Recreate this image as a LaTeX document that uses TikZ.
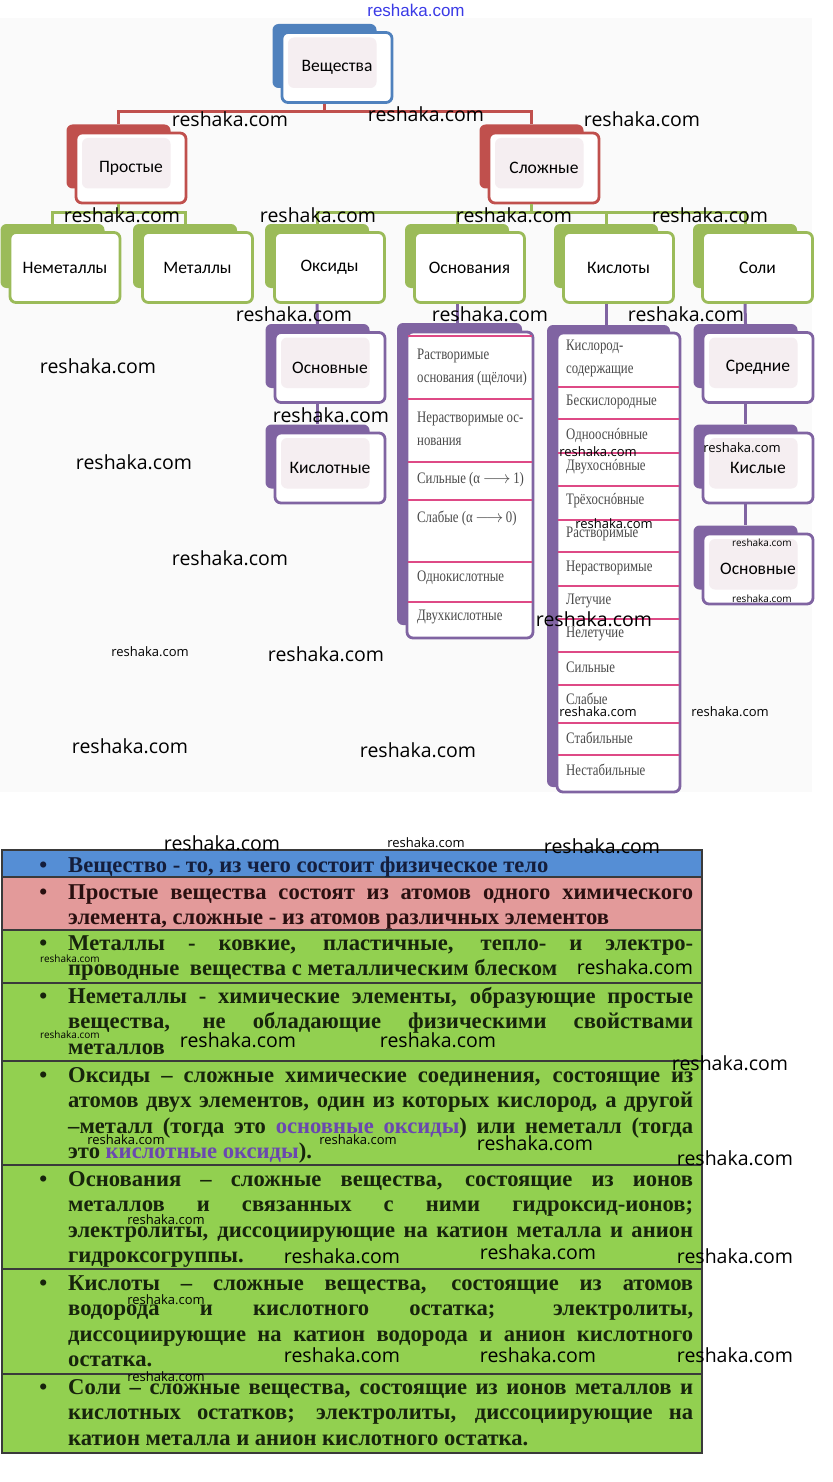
\documentclass[tikz,border=0pt]{standalone}
\usepackage{fontspec}
\setmainfont{Liberation Serif}
\newfontfamily\boxfont{Carlito}
\newfontfamily\wmfont{Open Sans}
\newfontfamily\listfont[FakeStretch=0.8]{Liberation Serif}
\newfontfamily\topwmfont{Liberation Sans}
\usetikzlibrary{calc}
\definecolor{accblue}{HTML}{4F81BD}
\definecolor{accred}{HTML}{C0504D}
\definecolor{accgreen}{HTML}{9BBB59}
\definecolor{accpurple}{HTML}{8064A2}
\definecolor{innerpink}{HTML}{F5EEF1}
\definecolor{seppink}{HTML}{DE4A86}
\definecolor{listgray}{HTML}{4A4A4A}
\definecolor{bgtop}{HTML}{FAFAFA}
\definecolor{tblue}{HTML}{558ED5}
\definecolor{tred}{HTML}{E39A9A}
\definecolor{tgreen}{HTML}{92D050}
\definecolor{tline}{HTML}{3A3A3A}
\definecolor{oxpurple}{HTML}{6A48B0}
\definecolor{wmblue}{HTML}{3A3AE6}
\definecolor{txtblue}{HTML}{141E3C}
\definecolor{txtred}{HTML}{2A1010}
\definecolor{txtgreen}{HTML}{17240C}
\newcommand\smartbox[6]{%
  \node[backbox, fill=#4] (#1b) at (#2-12.5,#3-11.5) {};
  \node[frontbox, draw=#4, #5] (#1) at (#2,#3) {#6};}
\newcommand\jline[1]{\makebox[625pt][s]{#1}}
\newcommand\bul{\leavevmode\llap{•\hspace{21pt}}}
\tikzset{
  backbox/.style={rounded corners=6pt, minimum width=104, minimum height=64, inner sep=0},
  frontbox/.style={rounded corners=6pt, fill=white, line width=2.8pt, minimum width=110,
    minimum height=70, inner sep=0, font=\boxfont\fontsize{17.5}{19}\selectfont},
  pinkin/.style={path picture={\fill[innerpink]
    ($(path picture bounding box.center)+(-49,-30)$) rectangle
    ($(path picture bounding box.center)+(39.5,20.5)$);}},
  rline/.style={draw=accred, line width=3pt},
  gline/.style={draw=accgreen, line width=3pt},
  pline/.style={draw=accpurple, line width=3pt},
  listback/.style={rounded corners=6pt, fill=accpurple, inner sep=0},
  listfront/.style={rounded corners=6pt, fill=white, draw=accpurple, line width=2.8pt, inner sep=0},
  sepline/.style={draw=seppink, line width=1.1pt, shorten <=2pt, shorten >=2pt},
  item/.style={font=\listfont\fontsize{16}{23}\selectfont, text=listgray, anchor=west,
    inner sep=0, align=left},
  rowtext/.style={anchor=base west, inner sep=0,
    font=\fontsize{22.6}{25.6}\selectfont\bfseries},
  tborder/.style={draw=tline, line width=1.3pt},
  wm/.style={font=\wmfont\fontsize{19.5}{20}\selectfont, inner sep=0, text=black},
  wms/.style={font=\wmfont\fontsize{13}{14}\selectfont, inner sep=0, text=black},
  wmt/.style={font=\wmfont\fontsize{10}{11}\selectfont, inner sep=0, text=black},
}
\begin{document}
\begin{tikzpicture}[x=1pt,y=-1pt]
\path[use as bounding box] (0,0) rectangle (832,1482);
\fill[bgtop] (0,18) rectangle (812,792);

\coordinate (rbar) at (0,112);
\coordinate (gbar) at (0,212);

\smartbox{v}{337}{67.5}{accblue}{pinkin}{Вещества}
\smartbox{p}{131}{168}{accred}{pinkin}{Простые}
\smartbox{s}{544}{168}{accred}{pinkin}{Сложные}
\draw[rline] (vb.south |- v.south) -- (vb.south |- rbar);
\draw[rline] (pb.north) |- (sb.north |- rbar) -- (sb.north);

\smartbox{nm}{65}{267.5}{accgreen}{}{Неметаллы}
\smartbox{mt}{197.5}{267.5}{accgreen}{}{Металлы}
\smartbox{ok}{329.5}{267.5}{accgreen}{}{Оксиды}
\smartbox{os}{469.5}{267.5}{accgreen}{}{Основания}
\smartbox{ks}{618.5}{267.5}{accgreen}{}{Кислоты}
\smartbox{sl}{757.5}{267.5}{accgreen}{}{Соли}

\draw[gline] (pb.south |- p.south) -- (pb.south |- gbar);
\draw[gline] (nmb.north) |- (mtb.north |- gbar) -- (mtb.north);
\draw[gline] (sb.south |- s.south) -- (sb.south |- gbar);
\draw[gline] (okb.north) |- (slb.north |- gbar) -- (slb.north);
\draw[gline] (osb.north) -- (osb.north |- gbar);
\draw[gline] (ksb.north) -- (ksb.north |- gbar);

\smartbox{po}{330}{367.5}{accpurple}{pinkin}{Основные}
\smartbox{pk}{330}{468}{accpurple}{pinkin}{Кислотные}
\smartbox{ss}{758}{367.5}{accpurple}{pinkin}{Средние}
\smartbox{sk}{758}{468}{accpurple}{pinkin}{Кислые}
\smartbox{so}{758}{569}{accpurple}{pinkin}{Основные}
\draw[pline] (okb.south |- ok.south) -- (pob.north);
\draw[pline] (pob.south |- po.south) -- (pkb.north);
\draw[pline] (slb.south |- sl.south) -- (ssb.north);
\draw[pline] (ssb.south |- ss.south) -- (skb.north);
\draw[pline] (skb.south |- sk.south) -- (sob.north);

% Основания list
\node[listback, minimum width=125, minimum height=302] (olb) at (459.5,474) {};
\node[listfront, minimum width=126, minimum height=306] (ol) at (470,485) {};
\draw[pline] (osb.south |- os.south) -- (osb.south |- olb.north);
\foreach \yy in {336,399,462,500,562,602}
  \draw[sepline] (ol.west |- 0,\yy) -- (ol.east |- 0,\yy);
\node[item] (ol1) at (417,367.5) {Растворимые\\основания (щёлочи)};
\node[item] (ol2) at (417,428.5) {Нерастворимые ос-\\нования};
\node[item] (ol3) at (417,480) {Сильные (α\,$\longrightarrow$\,1)};
\node[item] (ol4) at (417,518) {Слабые (α\,$\longrightarrow$\,0)};
\node[item] (ol5) at (417,578) {Однокислотные};
\node[item] (ol6) at (417,617) {Двухкислотные};

% Кислоты list
\node[listback, minimum width=123, minimum height=462] (klb) at (608.5,556) {};
\node[listfront, minimum width=123, minimum height=459] (kl) at (618.5,562.5) {};
\draw[pline] (ksb.south |- ks.south) -- (ksb.south |- klb.north);
\foreach \yy in {387,419,453,486,520,552,586,619,652,685,723,755}
  \draw[sepline] (kl.west |- 0,\yy) -- (kl.east |- 0,\yy);
\node[item] (kl1) at (566,358.5) {Кислород-\\содержащие};
\node[item] (kl2) at (566,402) {Бескислородные};
\node[item] (kl3) at (566,435) {Однооснóвные};
\node[item] (kl4) at (566,467) {Двухоснóвные};
\node[item] (kl5) at (566,501) {Трёхоснóвные};
\node[item] (kl6) at (566,534) {Растворимые};
\node[item] (kl7) at (566,568) {Нерастворимые};
\node[item] (kl8) at (566,601) {Летучие};
\node[item] (kl9) at (566,634) {Нелетучие};
\node[item] (kl10) at (566,667) {Сильные};
\node[item] (kl11) at (566,699) {Слабые};
\node[item] (kl12) at (566,738) {Стабильные};
\node[item] (kl13) at (566,770) {Нестабильные};

% ---- table
\fill[tblue] (2,850) rectangle (702,877);
\fill[tred] (2,877) rectangle (702,930);
\fill[tgreen] (2,930) rectangle (702,1453);
\foreach \ya/\yb in {850/877,877/930,930/983,983/1061,1061/1165,1165/1269,1269/1374,1374/1453}
  \draw[tborder] (2,\ya) rectangle (702,\yb);

\node[rowtext, text=txtblue] (t1) at (68,872) {\parbox[t]{625pt}{\bul Вещество - то, из чего состоит физическое тело}};
\node[rowtext, text=txtred] (t2) at (68,899) {\parbox[t]{625pt}{%
  \jline{\bul Простые вещества состоят из атомов одного химического}\\
  элемента, сложные - из атомов различных элементов}};
\node[rowtext, text=txtgreen] (t3) at (68,950) {\parbox[t]{625pt}{%
  \jline{\bul Металлы - ковкие, пластичные, тепло- и электро-}\\
  проводные\hspace{5pt} вещества с металлическим блеском}};
\node[rowtext, text=txtgreen] (t4) at (68,1003) {\parbox[t]{625pt}{%
  \jline{\bul Неметаллы - химические элементы, образующие простые}\\
  \jline{вещества, не обладающие физическими свойствами}\\
  металлов}};
\node[rowtext, text=txtgreen] (t5) at (68,1082) {\parbox[t]{625pt}{%
  \jline{\bul Оксиды – сложные химические соединения, состоящие из}\\
  \jline{атомов двух элементов, один из которых кислород, а другой}\\
  \jline{–металл (тогда это \textcolor{oxpurple}{основные оксиды}) или неметалл (тогда}\\
  это \textcolor{oxpurple}{кислотные оксиды}).}};
\node[rowtext, text=txtgreen] (t6) at (68,1186) {\parbox[t]{625pt}{%
  \jline{\bul Основания – сложные вещества, состоящие из ионов}\\
  \jline{металлов и связанных с ними гидроксид-ионов;}\\
  \jline{электролиты, диссоциирующие на катион металла и анион}\\
  гидроксогруппы.}};
\node[rowtext, text=txtgreen] (t7) at (68,1290) {\parbox[t]{625pt}{%
  \jline{\bul Кислоты – сложные вещества, состоящие из атомов}\\
  \jline{водорода и кислотного остатка; электролиты,}\\
  \jline{диссоциирующие на катион водорода и анион кислотного}\\
  остатка.}};
\node[rowtext, text=txtgreen] (t8) at (68,1394) {\parbox[t]{625pt}{%
  \jline{\bul Соли – сложные вещества, состоящие из ионов металлов и}\\
  \jline{кислотных остатков; электролиты, диссоциирующие на}\\
  катион металла и анион кислотного остатка.}};

% ---- watermarks
\node[font=\topwmfont\fontsize{17}{18}\selectfont, text=wmblue, inner sep=0] (wtop) at (416,10) {reshaka.com};
\foreach \xx/\yy [count=\i] in {230/119.5,426/114,642/119.5,122/215,318/215,514/215,710/215,
  294/314,490/314,686/314,98/366,331/415,134/462,230/558,594/619,326/654,130/746,418/750,
  222/843,602/846,635/967,238/1040,438/1040,730/1063,535/1143,735/1158,342/1256,538/1252,
  735/1256,342/1355,538/1355,735/1355}
  \node[wm] (wl\i) at (\xx,\yy) {reshaka.com};
\foreach \xx/\yy [count=\i] in {598/452,742/448,614/524,598/712,730/712,150/652,426/843,
  126/1140,358/1140,166/1220,166/1300,166/1377}
  \node[wms] (ws\i) at (\xx,\yy) {reshaka.com};
\foreach \xx/\yy [count=\i] in {762/543,762/599,70/959,70/1035}
  \node[wmt] (wt\i) at (\xx,\yy) {reshaka.com};
\end{tikzpicture}
\end{document}
